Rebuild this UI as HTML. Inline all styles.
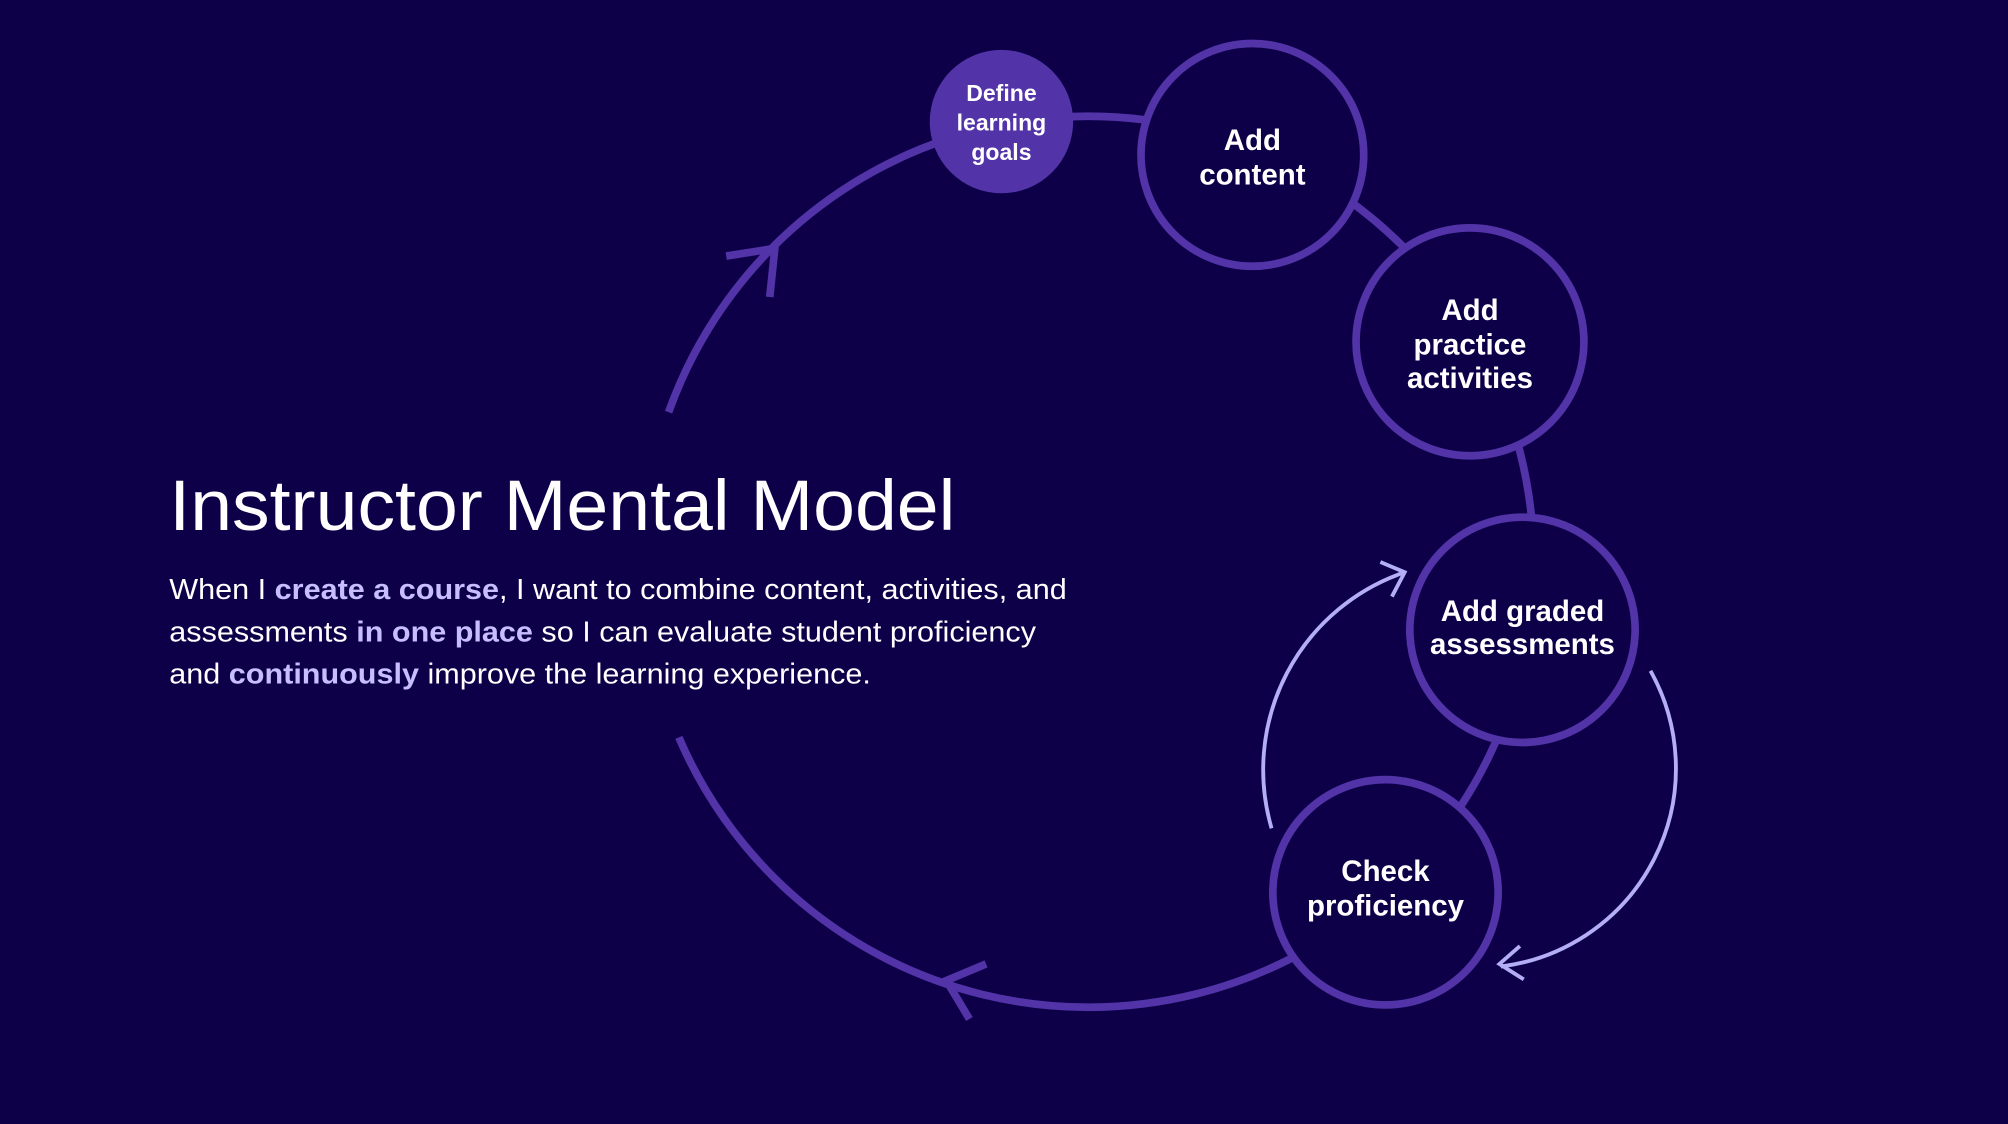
<!DOCTYPE html>
<html><head><meta charset="utf-8"><style>
html,body{margin:0;padding:0;background:#0d0049;}
svg{display:block}
</style></head><body>
<svg width="2008" height="1124" viewBox="0 0 1568 878" xmlns="http://www.w3.org/2000/svg">
<rect width="1568" height="878" fill="#0d0049"/>
<g fill="none" stroke="#5233a8" stroke-width="6" stroke-linecap="butt">
<path d="M 522 322 A 348 348 0 1 1 530 576"/>
<polyline points="567,200 605,194 601,232"/>
<polyline points="770,753 739,766 757,796"/>
</g>
<g fill="none" stroke="#b3aef5" stroke-width="3">
<path d="M 993 647 A 163 163 0 0 1 1097 447"/>
<polyline points="1078,439 1097,447 1087,466"/>
<path d="M 1289 524 A 156 156 0 0 1 1172 755"/>
<polyline points="1187,739 1171,753 1190,765"/>
</g>
<circle cx="782" cy="95" r="56" fill="#5233a8"/>
<g fill="#0d0049" stroke="#5233a8" stroke-width="6">
<circle cx="978" cy="121" r="87"/>
<circle cx="1148" cy="267" r="89"/>
<circle cx="1189" cy="492" r="88"/>
<circle cx="1082" cy="697" r="88"/>
</g>
<g fill="#ffffff" font-family="Liberation Sans, sans-serif" font-weight="bold" text-anchor="middle">
<g font-size="18"><text x="782" y="79">Define</text><text x="782" y="102">learning</text><text x="782" y="125">goals</text></g>
<g font-size="23"><text x="978" y="117">Add</text><text x="978" y="144">content</text>
<text x="1148" y="250">Add</text><text x="1148" y="277">practice</text><text x="1148" y="303">activities</text>
<text x="1189" y="485">Add graded</text><text x="1189" y="511">assessments</text>
<text x="1082" y="688">Check</text><text x="1082" y="715">proficiency</text></g>
</g>
<text x="132" y="414" fill="#ffffff" font-family="Liberation Sans, sans-serif" font-size="56" font-weight="500" textLength="614" lengthAdjust="spacingAndGlyphs">Instructor Mental Model</text>
<g fill="#ffffff" font-family="Liberation Sans, sans-serif" font-size="22.5">
<text x="132" y="468" textLength="701" lengthAdjust="spacingAndGlyphs">When I <tspan font-weight="bold" fill="#c6beff">create a course</tspan>, I want to combine content, activities, and</text>
<text x="132" y="501" textLength="677" lengthAdjust="spacingAndGlyphs">assessments <tspan font-weight="bold" fill="#c6beff">in one place</tspan> so I can evaluate student proficiency</text>
<text x="132" y="534" textLength="548" lengthAdjust="spacingAndGlyphs">and <tspan font-weight="bold" fill="#c6beff">continuously</tspan> improve the learning experience.</text>
</g>
</svg>
</body></html>
